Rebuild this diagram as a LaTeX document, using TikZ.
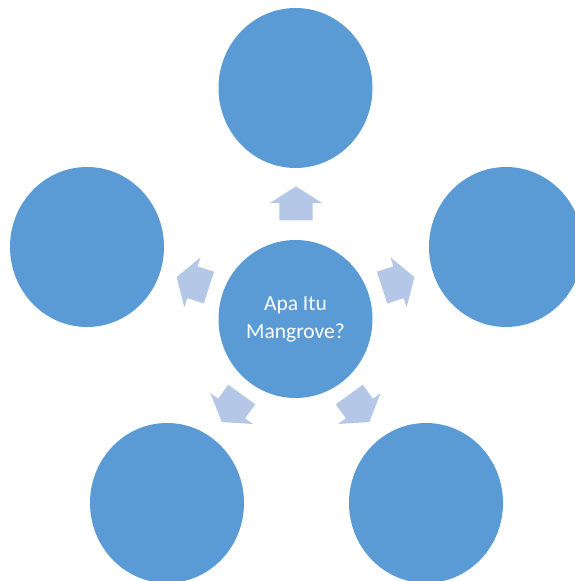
\documentclass[tikz,border=0pt]{standalone}
\usepackage{fontspec}
\setmainfont{Carlito}
\usetikzlibrary{shapes.geometric,shapes.arrows}
\definecolor{bubbleblue}{HTML}{5B9BD5}
\definecolor{arrowblue}{HTML}{B4C7E7}
\begin{document}
\begin{tikzpicture}
[x=1pt,y=1pt,
  bubbledecorate/.style={shape=ellipse,fill=bubbleblue,inner sep=0pt,%
    minimum width=154pt,minimum height=160pt},
  arrowdecorate/.style={shape=single arrow,fill=arrowblue,inner xsep=0pt,%
    inner ysep=16.5pt,minimum height=34pt,single arrow head extend=9.5pt,%
    single arrow tip angle=115,single arrow head indent=0pt}]
\clip (0,0) rectangle (575,581);
\useasboundingbox (0,0) rectangle (575,581);
%% centre
\node (hub) at (295.5,262) [bubbledecorate,minimum height=158pt,%
  text=white,align=center,font=\fontsize{21.5}{28}\selectfont]
  {Apa Itu\\Mangrove?};
%% outer bubbles
\foreach \nodename/\x/\y in {top/295.5/493, lft/87/334, rgt/506/334,
  botlft/167/78, botrgt/426/78} {
  \node (\nodename) at (\x,\y) [bubbledecorate] {};
}
%% block arrows
\foreach \nodename/\x/\y/\angle in {uparrow/296/372.3/90,
  lftarrow/197.8/297/162, rgtarrow/393.2/297/18,
  botlftarrow/234.9/177/234, botrgtarrow/356.1/177/-54} {
  \node (\nodename) at (\x,\y) [arrowdecorate,rotate=\angle] {};
}
\end{tikzpicture}
\end{document}
